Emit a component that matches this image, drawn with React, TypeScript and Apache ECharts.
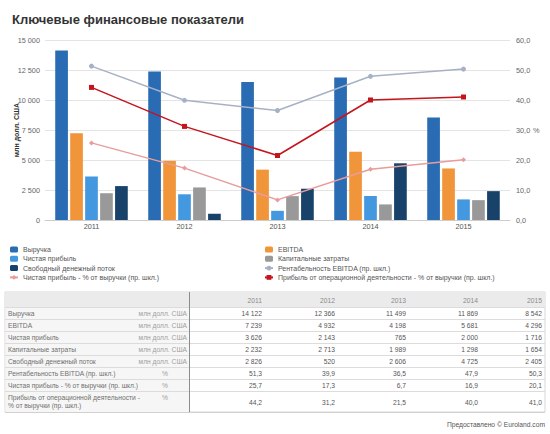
import React, { useEffect, useRef } from "react";
import * as echarts from "echarts";

const years = ["2011", "2012", "2013", "2014", "2015"];
const revenue = [14122, 12366, 11499, 11869, 8542];
const ebitda = [7239, 4932, 4198, 5681, 4296];
const netProfit = [3626, 2143, 765, 2000, 1716];
const capex = [2232, 2713, 1989, 1298, 1654];
const fcf = [2826, 520, 2606, 4725, 2405];
const ebitdaMargin = [51.3, 39.9, 36.5, 47.9, 50.3];
const netMargin = [25.7, 17.3, 6.7, 16.9, 20.1];
const opMargin = [44.2, 31.2, 21.5, 40.0, 41.0];

const seriesNames = [
  "Выручка",
  "EBITDA",
  "Чистая прибыль",
  "Капитальные затраты",
  "Свободный денежный поток",
  "Рентабельность EBITDA (пр. шкл.)",
  "Чистая прибыль - % от выручки (пр. шкл.)",
  "Прибыль от операционной деятельности - % от выручки (пр. шкл.)",
];
const unitMoney = "млн долл. США";
const unitPct = "%";
const tableLabels = [
  ["Выручка"],
  ["EBITDA"],
  ["Чистая прибыль"],
  ["Капитальные затраты"],
  ["Свободный денежный поток"],
  ["Рентабельность EBITDA (пр. шкл.)"],
  ["Чистая прибыль - % от выручки (пр. шкл.)"],
  ["Прибыль от операционной деятельности -", "% от выручки (пр. шкл.)"],
];
const tableUnits = [unitMoney, unitMoney, unitMoney, unitMoney, unitMoney, unitPct, unitPct, unitPct];
const tableValues = [revenue, ebitda, netProfit, capex, fcf, ebitdaMargin, netMargin, opMargin];
const tableIsPct = [false, false, false, false, false, true, true, true];

const colors = {
  revenue: "#2a6cb3",
  ebitda: "#f0953a",
  net: "#4398e0",
  capex: "#999999",
  fcf: "#18426a",
  ebitdaM: "#a7b1c6",
  netM: "#e89c9c",
  opM: "#c4141c",
};

const FONT = "'Liberation Sans', Arial, sans-serif";
const TFS = 6.7;

const fmtInt = (v: number) => String(Math.round(v)).replace(/\B(?=(\d{3})+(?!\d))/g, " ");
const fmtPct = (v: number) => v.toFixed(1).replace(".", ",");

function buildTable(): any[] {
  const els: any[] = [];
  const L = 5, R = 545, SEP = 189;
  const top = 292, headH = 15, rowH = 12, lastH = 21;
  const rowTops: number[] = [];
  let y = top + headH;
  for (let i = 0; i < tableLabels.length; i++) {
    rowTops.push(y);
    y += tableLabels[i].length > 1 ? lastH : rowH;
  }
  const bottom = y;
  const colRights = [262, 335, 406, 478, 542];
  els.push({ type: "rect", shape: { x: L, y: top, width: R - L, height: bottom - top }, style: { fill: "#ffffff", stroke: "#d8d8d8", lineWidth: 1 }, silent: true });
  els.push({ type: "rect", shape: { x: L + 0.5, y: top + headH, width: SEP - L - 0.5, height: bottom - top - headH }, style: { fill: "#f6f6f6" }, silent: true });
  els.push({ type: "rect", shape: { x: L + 0.5, y: top + 0.5, width: R - L - 1, height: headH }, style: { fill: "#ebebeb" }, silent: true });
  for (let i = 0; i < rowTops.length; i++) {
    els.push({ type: "line", shape: { x1: L, y1: rowTops[i] + 0.5, x2: R, y2: rowTops[i] + 0.5 }, style: { stroke: "#dcdcdc", lineWidth: 1 }, silent: true });
  }
  els.push({ type: "line", shape: { x1: L, y1: bottom + 0.5, x2: R, y2: bottom + 0.5 }, style: { stroke: "#d0d0d0", lineWidth: 1 }, silent: true });
  els.push({ type: "line", shape: { x1: SEP + 0.5, y1: top, x2: SEP + 0.5, y2: bottom }, style: { stroke: "#8c8c8c", lineWidth: 1 }, silent: true });
  years.forEach((yr, j) => {
    els.push({ type: "text", style: { text: yr, x: colRights[j], y: top + headH / 2 + 0.5, fill: "#8a8a8a", font: `${TFS}px ${FONT}`, textAlign: "right", textVerticalAlign: "middle" }, silent: true });
  });
  tableLabels.forEach((lines, i) => {
    const h = lines.length > 1 ? lastH : rowH;
    const cy = rowTops[i] + h / 2 + 0.5;
    lines.forEach((ln, k) => {
      const ly = lines.length > 1 ? rowTops[i] + 6 + k * 8.5 : cy;
      els.push({ type: "text", style: { text: ln, x: 8, y: ly, fill: "#707070", font: `${TFS}px ${FONT}`, textAlign: "left", textVerticalAlign: "middle" }, silent: true });
    });
    const unit = tableUnits[i];
    const uy = lines.length > 1 ? rowTops[i] + 6 : cy;
    if (unit === unitPct) {
      els.push({ type: "text", style: { text: unit, x: 165, y: uy, fill: "#a0a0a0", font: `${TFS}px ${FONT}`, textAlign: "center", textVerticalAlign: "middle" }, silent: true });
    } else {
      els.push({ type: "text", style: { text: unit, x: 187, y: uy, fill: "#a0a0a0", font: `${TFS}px ${FONT}`, textAlign: "right", textVerticalAlign: "middle" }, silent: true });
    }
    tableValues[i].forEach((v, j) => {
      els.push({ type: "text", style: { text: tableIsPct[i] ? fmtPct(v) : fmtInt(v), x: colRights[j], y: cy, fill: "#555555", font: `${TFS}px ${FONT}`, textAlign: "right", textVerticalAlign: "middle" }, silent: true });
    });
  });
  els.push({ type: "text", style: { text: "Предоставлено © Euroland.com", x: 545, y: 424, fill: "#555555", font: `${TFS}px ${FONT}`, textAlign: "right", textVerticalAlign: "middle" }, silent: true });
  return els;
}

export default function App() {
  const ref = useRef<HTMLDivElement>(null);
  useEffect(() => {
    if (!ref.current) return;
    const chart = echarts.init(ref.current, null, { renderer: "svg" });
    const barCommon = { type: "bar", barGap: "18%", barCategoryGap: "22%", yAxisIndex: 0 };
    const lineCommon = { type: "line", yAxisIndex: 1, symbolSize: 5, z: 5 };
    const legendCommon = {
      orient: "vertical",
      top: 246,
      padding: 0,
      itemWidth: 8,
      itemHeight: 6,
      itemGap: 2.3,
      textStyle: { fontSize: 7, color: "#555555", fontFamily: FONT, padding: [0, 0, 0, 0] },
    };
    chart.setOption({
      animation: false,
      textStyle: { fontFamily: FONT },
      title: {
        text: "Ключевые финансовые показатели",
        left: 7,
        top: 8,
        textStyle: { fontSize: 13, fontWeight: "bold", color: "#333333", fontFamily: FONT },
      },
      grid: { left: 45, right: 40, top: 40, bottom: 214, containLabel: false, outerBoundsMode: "none" },
      legend: [
        {
          ...legendCommon,
          left: 9,
          data: [
            { name: seriesNames[0], icon: "roundRect" },
            { name: seriesNames[2], icon: "roundRect" },
            { name: seriesNames[4], icon: "roundRect" },
            { name: seriesNames[6] },
          ],
        },
        {
          ...legendCommon,
          left: 264,
          data: [
            { name: seriesNames[1], icon: "roundRect" },
            { name: seriesNames[3], icon: "roundRect" },
            { name: seriesNames[5] },
            { name: seriesNames[7] },
          ],
        },
      ],
      xAxis: {
        type: "category",
        data: years,
        axisLine: { lineStyle: { color: "#cccccc" } },
        axisTick: { lineStyle: { color: "#cccccc" }, length: 4 },
        axisLabel: { fontSize: 7.3, color: "#555555", margin: 3 },
      },
      yAxis: [
        {
          type: "value",
          min: 0,
          max: 15000,
          interval: 2500,
          name: "млн долл. США",
          nameLocation: "middle",
          nameRotate: 90,
          nameGap: 25,
          nameMoveOverlap: false,
          nameTextStyle: { fontSize: 7, fontWeight: "bold", color: "#333333" },
          axisLine: { show: false },
          axisTick: { show: false },
          axisLabel: { fontSize: 7.3, color: "#666666", margin: 5, formatter: (v: number) => fmtInt(v) },
          splitLine: { lineStyle: { color: "#e4e4e4" } },
        },
        {
          type: "value",
          min: 0,
          max: 60,
          interval: 10,
          position: "right",
          name: "%",
          nameLocation: "middle",
          nameRotate: 0,
          nameGap: 23,
          nameMoveOverlap: false,
          nameTextStyle: { fontSize: 7.3, color: "#666666" },
          axisLine: { show: false },
          axisTick: { show: false },
          axisLabel: { fontSize: 7.3, color: "#666666", margin: 6, formatter: (v: number) => fmtPct(v) },
          splitLine: { show: false },
        },
      ],
      series: [
        { ...barCommon, name: seriesNames[0], data: revenue, itemStyle: { color: colors.revenue } },
        { ...barCommon, name: seriesNames[1], data: ebitda, itemStyle: { color: colors.ebitda } },
        { ...barCommon, name: seriesNames[2], data: netProfit, itemStyle: { color: colors.net } },
        { ...barCommon, name: seriesNames[3], data: capex, itemStyle: { color: colors.capex } },
        { ...barCommon, name: seriesNames[4], data: fcf, itemStyle: { color: colors.fcf } },
        { ...lineCommon, name: seriesNames[5], data: ebitdaMargin, symbol: "circle", itemStyle: { color: colors.ebitdaM }, lineStyle: { width: 1.5, color: colors.ebitdaM } },
        { ...lineCommon, name: seriesNames[6], data: netMargin, symbol: "diamond", itemStyle: { color: colors.netM }, lineStyle: { width: 1.5, color: colors.netM } },
        { ...lineCommon, name: seriesNames[7], data: opMargin, symbol: "rect", itemStyle: { color: colors.opM }, lineStyle: { width: 1.5, color: colors.opM } },
      ],
      graphic: buildTable(),
    });
    return () => chart.dispose();
  }, []);
  return (
    <div
      ref={ref}
      style={{ position: "absolute", left: 0, top: 0, width: 550, height: 434, background: "#ffffff" }}
    />
  );
}
